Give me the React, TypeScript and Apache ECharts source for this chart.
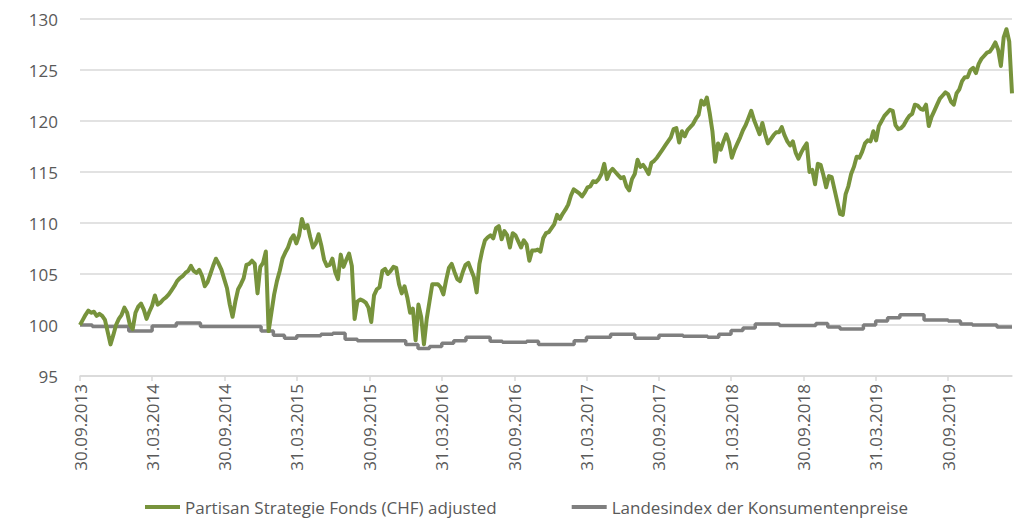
import React, { useEffect, useRef } from "react";
import * as echarts from "echarts";

// X-axis tick labels (half-yearly)
const tickLabels = [
  "30.09.2013", "31.03.2014", "30.09.2014", "31.03.2015", "30.09.2015",
  "31.03.2016", "30.09.2016", "31.03.2017", "30.09.2017", "31.03.2018",
  "30.09.2018", "31.03.2019", "30.09.2019",
];
const startDate = "30.09.2013";
const endDate = "09.03.2020";

const fundName = "Partisan Strategie Fonds (CHF) adjusted";
const cpiName = "Landesindex der Konsumentenpreise";

// Fund, weekly values, one array per half-year (26 weeks each)
const fund2013H2 = [100.0, 100.5, 101.0, 101.4, 101.2, 101.3, 100.9, 101.1, 100.9, 100.5, 99.3, 98.1, 99.0, 100.0, 100.6, 101.0, 101.7, 101.2, 100.0, 99.6, 101.2, 101.8, 102.1, 101.5, 100.6, 101.3];
const fund2014H1 = [101.9, 102.9, 102.0, 102.2, 102.5, 102.7, 103.0, 103.4, 103.8, 104.3, 104.6, 104.8, 105.1, 105.3, 105.8, 105.3, 105.1, 105.4, 104.8, 103.8, 104.2, 105.0, 105.8, 106.5, 106.0, 105.4];
const fund2014H2 = [104.5, 103.6, 102.0, 100.8, 102.3, 103.5, 104.0, 104.6, 105.9, 106.0, 106.3, 106.0, 103.1, 105.7, 106.1, 107.2, 99.4, 101.2, 103.0, 104.3, 105.3, 106.5, 107.1, 107.6, 108.4, 108.8];
const fund2015H1 = [108.0, 108.8, 110.4, 109.5, 109.8, 108.6, 107.6, 108.0, 108.9, 107.8, 106.4, 105.8, 105.9, 106.5, 105.2, 104.5, 106.9, 105.7, 106.4, 107.0, 105.8, 100.6, 102.3, 102.5, 102.4, 102.2];
const fund2015H2 = [101.7, 100.3, 102.9, 103.5, 103.7, 105.3, 105.5, 105.0, 105.3, 105.7, 105.6, 104.0, 103.1, 103.8, 102.7, 101.2, 101.6, 98.5, 102.0, 100.8, 98.1, 100.6, 102.3, 104.0, 104.0, 104.0];
const fund2016H1 = [103.7, 103.0, 104.4, 105.6, 106.0, 105.2, 104.5, 104.3, 105.2, 105.9, 106.1, 105.4, 104.7, 103.2, 106.0, 107.3, 108.3, 108.6, 108.8, 108.5, 109.5, 109.7, 108.4, 109.2, 108.8, 107.6];
const fund2016H2 = [109.0, 108.8, 108.2, 107.6, 108.3, 107.9, 106.3, 107.3, 107.3, 107.4, 107.2, 108.5, 109.0, 109.1, 109.5, 109.9, 110.8, 110.4, 110.9, 111.3, 111.8, 112.7, 113.3, 113.1, 112.9, 112.6];
const fund2017H1 = [113.0, 113.5, 113.6, 114.1, 114.0, 114.3, 114.8, 115.8, 114.3, 115.0, 115.3, 115.0, 114.7, 114.4, 114.5, 113.6, 113.2, 114.3, 114.8, 116.2, 115.5, 115.7, 115.3, 114.8, 115.9, 116.1];
const fund2017H2 = [116.4, 116.8, 117.2, 117.6, 118.0, 118.4, 119.2, 119.3, 117.9, 119.0, 118.5, 119.1, 119.4, 119.7, 120.2, 120.6, 122.0, 121.6, 122.3, 120.8, 119.0, 116.0, 117.8, 117.2, 118.0, 118.7];
const fund2018H1 = [117.9, 116.4, 117.2, 117.8, 118.4, 119.1, 119.6, 120.3, 121.0, 120.1, 119.4, 118.7, 119.8, 118.7, 117.8, 118.2, 118.6, 118.9, 118.9, 119.4, 118.6, 118.0, 117.6, 118.0, 116.9, 116.3];
const fund2018H2 = [116.9, 117.4, 117.8, 115.0, 115.2, 113.8, 115.8, 115.7, 114.7, 113.5, 114.6, 114.5, 113.3, 112.1, 110.9, 110.8, 112.8, 113.6, 114.8, 115.5, 116.5, 116.4, 117.0, 117.8, 118.1, 118.0];
const fund2019H1 = [119.0, 118.1, 119.5, 120.0, 120.5, 120.8, 121.1, 121.0, 119.6, 119.2, 119.3, 119.6, 120.1, 120.5, 120.7, 121.6, 121.5, 121.2, 121.1, 121.6, 119.5, 120.4, 121.0, 121.6, 122.2, 122.5];
const fund2019H2 = [122.8, 122.6, 121.9, 121.6, 122.7, 123.1, 123.9, 124.3, 124.3, 125.0, 125.2, 124.7, 125.6, 126.1, 126.4, 126.7, 126.8, 127.2, 127.7, 127.0, 125.4, 128.2, 129.0, 127.8, 122.7];

// Consumer price index, monthly (month-end), from Sep 2013
const cpiMonthly = [
  100.0, 99.85, 99.85, 99.85, 99.4, 99.4, 99.9, 99.9, 100.2, 100.2, 99.85, 99.85,
  99.85, 99.85, 99.85, 99.4, 99.0, 98.7, 98.95, 98.95, 99.1, 99.2, 98.6, 98.45,
  98.45, 98.45, 98.45, 98.1, 97.7, 97.9, 98.2, 98.45, 98.8, 98.8, 98.4, 98.3,
  98.3, 98.4, 98.1, 98.1, 98.1, 98.45, 98.8, 98.8, 99.1, 99.1, 98.7, 98.7,
  99.0, 99.0, 98.9, 98.9, 98.8, 99.1, 99.45, 99.7, 100.1, 100.1, 99.95, 99.95,
  99.95, 100.15, 99.8, 99.6, 99.6, 100.0, 100.4, 100.7, 101.0, 101.0, 100.5, 100.5,
  100.4, 100.1, 100.0, 100.0, 99.8, 99.8,
];

const GREEN = "#77933C";
const GRAY = "#7F7F7F";
const TEXT = "#595959";
const GRID = "#D9D9D9";
const FONT = "'Open Sans', 'Noto Sans', sans-serif";
const DAY = 86400000;

function parseDMY(s: string): number {
  const [d, m, y] = s.split(".").map(Number);
  return Date.UTC(y, m - 1, d);
}
function fmt(v: number): string {
  const d = new Date(v);
  const p = (n: number) => (n < 10 ? "0" + n : "" + n);
  return p(d.getUTCDate()) + "." + p(d.getUTCMonth() + 1) + "." + d.getUTCFullYear();
}

export default function App() {
  const ref = useRef<HTMLDivElement>(null);
  useEffect(() => {
    if (!ref.current) return;
    const chart = echarts.init(ref.current, undefined, { renderer: "svg" });
    const start = parseDMY(startDate);
    const end = parseDMY(endDate);
    const ticks = tickLabels.map(parseDMY);

    const fundValues = [
      ...fund2013H2, ...fund2014H1, ...fund2014H2, ...fund2015H1, ...fund2015H2,
      ...fund2016H1, ...fund2016H2, ...fund2017H1, ...fund2017H2, ...fund2018H1,
      ...fund2018H2, ...fund2019H1, ...fund2019H2,
    ];
    const fundData = fundValues.map((v, i) => [start + i * 7 * DAY, v]);
    const cpiData: any[] = cpiMonthly.map((v, m) => [Date.UTC(2013, 9 + m, 0), v]);
    cpiData.push([end, cpiMonthly[cpiMonthly.length - 1]]);

    chart.setOption({
      animation: false,
      textStyle: { fontFamily: FONT },
      grid: { left: 80, right: 5, top: 19, bottom: 143, containLabel: false },
      legend: {
        left: 145,
        top: 497,
        padding: 0,
        itemWidth: 35,
        itemHeight: 4,
        itemGap: 75,
        icon: "rect",
        textStyle: { color: TEXT, fontSize: 17, fontFamily: FONT, lineHeight: 20 },
        data: [fundName, cpiName],
      },
      xAxis: {
        type: "value",
        min: start,
        max: end,
        scale: true,
        axisLine: { show: true, lineStyle: { color: GRID, width: 1.5 } },
        axisTick: { show: true, length: 5, customValues: ticks, lineStyle: { color: GRID, width: 1.5 } },
        axisLabel: {
          customValues: ticks,
          rotate: 90,
          margin: 8,
          color: TEXT,
          fontSize: 17,
          fontFamily: FONT,
          formatter: (v: number) => fmt(v),
        },
        splitLine: { show: false },
      },
      yAxis: {
        type: "value",
        min: 95,
        max: 130,
        interval: 5,
        axisLine: { show: false },
        axisTick: { show: false },
        axisLabel: { color: TEXT, fontSize: 17, margin: 22, fontFamily: FONT },
        splitLine: { lineStyle: { color: GRID, width: 1.5 } },
      },
      series: [
        {
          name: fundName,
          type: "line",
          data: fundData,
          showSymbol: false,
          symbol: "none",
          lineStyle: { color: GREEN, width: 4, join: "round" },
          itemStyle: { color: GREEN },
          z: 3,
        },
        {
          name: cpiName,
          type: "line",
          data: cpiData,
          step: "end",
          showSymbol: false,
          symbol: "none",
          lineStyle: { color: GRAY, width: 3.5 },
          itemStyle: { color: GRAY },
          z: 2,
        },
      ],
    });
    return () => chart.dispose();
  }, []);
  return (
    <div
      ref={ref}
      style={{ position: "fixed", left: 0, top: 0, width: 1017, height: 519, background: "#fff" }}
    />
  );
}
